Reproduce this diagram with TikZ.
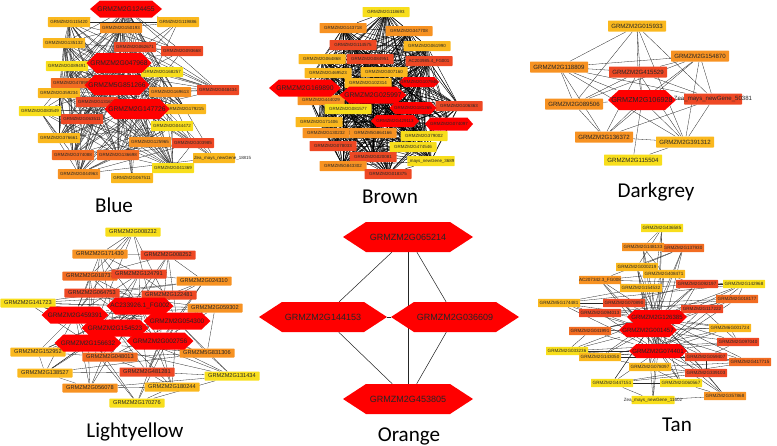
\documentclass[tikz,border=0pt]{standalone}
\usepackage{fontspec}
\newfontfamily\genefont{Liberation Sans}
\newfontfamily\titlefont{Carlito}
\pgfdeclarelayer{edges}
\pgfsetlayers{edges,main}
\definecolor{gyel}{RGB}{248,222,28}
\definecolor{ggold}{RGB}{250,184,30}
\definecolor{gorg}{RGB}{247,146,34}
\definecolor{gdark}{RGB}{242,108,34}
\definecolor{gred}{RGB}{238,72,36}
\definecolor{hubred}{RGB}{255,0,0}
\newcommand{\gsize}[1]{\genefont\fontsize{#1}{#1}\selectfont}
\tikzset{
  gene/.style={rectangle, rounded corners=0.5pt, inner sep=0pt, text=black!85},
  hub/.style={rectangle, inner sep=0pt, text=black!85, path picture={
      \fill[hubred] (path picture bounding box.west)
        -- ([xshift=#1]path picture bounding box.north west)
        -- ([xshift=-#1]path picture bounding box.north east)
        -- (path picture bounding box.east)
        -- ([xshift=-#1]path picture bounding box.south east)
        -- ([xshift=#1]path picture bounding box.south west) -- cycle;}},
  hub/.default=0.27cm,
  link/.style={draw=black!85, line width=0.26pt},
  panel/.style={font=\titlefont\fontsize{18}{20}\selectfont, anchor=base, inner sep=0pt},
  lvA/.style={fill=gyel}, lvB/.style={fill=ggold}, lvC/.style={fill=gorg},
  lvD/.style={fill=gdark}, lvE/.style={fill=gred},
  bluebox/.style={gene, minimum width=1.26cm, minimum height=0.3cm, font=\gsize{3.8}},
  brownbox/.style={gene, minimum width=1.41cm, minimum height=0.3cm, font=\gsize{3.8}},
  greybox/.style={gene, minimum width=1.74cm, minimum height=0.33cm, font=\gsize{5.2}},
  lightbox/.style={gene, minimum width=1.65cm, minimum height=0.27cm, font=\gsize{4.8}},
  tanbox/.style={gene, minimum width=1.26cm, minimum height=0.25cm, font=\gsize{3.9}},
}

\begin{document}
\begin{tikzpicture}[x=0.03cm,y=-0.03cm]
  \useasboundingbox (0,0) rectangle (777,446);
  % ---- Blue ----
  \node[bluebox,lvB] (b1) at (69,22) {GRMZM2G115420};
  \node[bluebox,lvC] (b2) at (121,28) {GRMZM2G150193};
  \node[bluebox,lvB] (b3) at (178,22) {GRMZM2G119886};
  \node[bluebox,lvB] (b4) at (64,43) {GRMZM2G135132};
  \node[bluebox,lvE] (b5) at (135,47) {GRMZM2G062671};
  \node[bluebox,lvE] (b6) at (182,51) {GRMZM2G093668};
  \node[bluebox,lvA] (b7) at (67,66) {GRMZM2G089491};
  \node[bluebox,lvA] (b8) at (162,72) {GRMZM2G168257};
  \node[bluebox,lvD] (b9) at (72,83) {GRMZM2G478980};
  \node[bluebox,lvB] (b10) at (59,93) {GRMZM2G359234};
  \node[bluebox,lvC] (b11) at (170,92) {GRMZM2G169613};
  \node[bluebox,lvE] (b12) at (218,90) {GRMZM2G048434};
  \node[bluebox,lvE] (b13) at (97,102) {GRMZM2G131610};
  \node[bluebox,lvA] (b14) at (40,111) {GRMZM2G083549};
  \node[bluebox,lvB] (b15) at (185,109) {GRMZM2G179215};
  \node[bluebox,lvE] (b16) at (82,119) {GRMZM2G063511};
  \node[bluebox,lvA] (b17) at (172,126) {GRMZM2G044472};
  \node[bluebox,lvB] (b18) at (59,138) {GRMZM2G376661};
  \node[bluebox,lvC] (b19) at (150,142) {GRMZM2G125965};
  \node[bluebox,lvE] (b20) at (193,143) {GRMZM2G303985};
  \node[bluebox,lvD] (b21) at (73,155) {GRMZM2G374088};
  \node[bluebox,lvD] (b22) at (118,155) {GRMZM2G136698};
  \node[bluebox,lvB] (b23) at (214,158) {\makebox[1.2cm][l]{Zea\_mays\_newGene\_18815}};
  \node[bluebox,lvA] (b24) at (173,168) {GRMZM2G041369};
  \node[bluebox,lvC] (b25) at (79,174) {GRMZM2G044963};
  \node[bluebox,lvB] (b26) at (132,178) {GRMZM2G067511};
  \node[hub=0.3cm,minimum width=2.16cm,minimum height=0.51cm,font=\gsize{5.8}] (b27) at (126,9) {GRMZM2G124455};
  \node[hub=0.3cm,minimum width=1.95cm,minimum height=0.6cm,font=\gsize{5.8}] (b28) at (119,63) {GRMZM2G047968};
  \node[hub=0.3cm,minimum width=1.95cm,minimum height=0.6cm,font=\gsize{5.8}] (b29) at (117,85) {GRMZM5G851266};
  \node[hub=0.3cm,minimum width=1.95cm,minimum height=0.6cm,font=\gsize{5.8}] (b30) at (137,109) {GRMZM2G147726};
  \node[panel] (tblue) at (114,212) {Blue};

  % ---- Brown ----
  \node[brownbox,lvA] (w1) at (386,12) {GRMZM2G118693};
  \node[brownbox,lvC] (w2) at (343,28) {GRMZM2G143718};
  \node[brownbox,lvC] (w3) at (409,31) {GRMZM2G347708};
  \node[brownbox,lvE] (w4) at (353,45) {GRMZM2G114575};
  \node[brownbox,lvB] (w5) at (427,46) {GRMZM2G061990};
  \node[brownbox,lvB] (w6) at (322,59) {GRMZM2G064868};
  \node[brownbox,lvE] (w7) at (370,59) {GRMZM2G084951};
  \node[brownbox,lvE] (w8) at (429,61) {AC203985.4\_FG001};
  \node[brownbox,lvB] (w9) at (328,73) {GRMZM2G469523};
  \node[brownbox,lvB] (w10) at (384,72) {GRMZM2G007160};
  \node[brownbox,lvB] (w11) at (368,83) {GRMZM2G102314};
  \node[brownbox,lvC] (w12) at (321,100) {GRMZM2G444029};
  \node[brownbox,lvA] (w13) at (348,109) {GRMZM2G081577};
  \node[brownbox,lvE] (w14) at (459,106) {GRMZM2G106363};
  \node[brownbox,lvB] (w15) at (319,122) {GRMZM2G171406};
  \node[brownbox,lvC] (w16) at (326,133) {GRMZM2G130232};
  \node[brownbox,lvC] (w17) at (373,133) {GRMZM5G864166};
  \node[brownbox,lvA] (w18) at (424,136) {GRMZM2G379002};
  \node[brownbox,lvE] (w19) at (333,146) {GRMZM2G078033};
  \node[brownbox,lvA] (w20) at (413,147) {GRMZM2G474546};
  \node[brownbox,lvE] (w21) at (373,157) {GRMZM2G020081};
  \node[brownbox,lvA] (w22) at (431,161) {\makebox[1.42cm][l]{\_mays\_newGene\_3689}};
  \node[brownbox,lvC] (w23) at (343,166) {GRMZM5G843302};
  \node[brownbox,lvE] (w24) at (388,174) {GRMZM2G018375};
  \node[hub=0.15cm,minimum width=1.2cm,minimum height=0.3cm,font=\gsize{3.8}] (w25) at (419,82) {GRMZM2G107946};
  \node[hub=0.3cm,minimum width=2.16cm,minimum height=0.51cm,font=\gsize{5.8}] (w26) at (305,88) {GRMZM2G169890};
  \node[hub=0.3cm,minimum width=2.01cm,minimum height=0.51cm,font=\gsize{5.8}] (w27) at (373,95) {GRMZM2G025997};
  \node[hub=0.17cm,minimum width=1.41cm,minimum height=0.36cm,font=\gsize{3.8}] (w28) at (413,108) {GRMZM2G181265};
  \node[hub=0.17cm,minimum width=1.44cm,minimum height=0.36cm,font=\gsize{3.8}] (w29) at (395,121) {GRMZM2G429113};
  \node[hub=0.17cm,minimum width=1.44cm,minimum height=0.39cm,font=\gsize{3.8}] (w30) at (449,124) {GRMZM2G074097};
  \node[panel] (tbrown) at (390,203) {Brown};

  % ---- Darkgrey ----
  \node[greybox,lvB] (d1) at (637,26) {GRMZM2G015933};
  \node[greybox,lvC] (d2) at (700,56) {GRMZM2G154870};
  \node[greybox,lvC] (d3) at (559,67) {GRMZM2G118809};
  \node[greybox,lvE] (d4) at (638,72) {GRMZM2G415529};
  \node[greybox,lvE] (d5) at (713,99) {\makebox[1.74cm][c]{Zea\_mays\_newGene\_50381}};
  \node[greybox,lvC] (d6) at (574,104) {GRMZM2G089506};
  \node[greybox,lvC] (d7) at (604,137) {GRMZM2G136372};
  \node[greybox,lvB] (d8) at (685,142) {GRMZM2G391312};
  \node[greybox,lvA] (d9) at (633,160) {GRMZM2G115504};
  \node[hub=0.33cm,minimum width=2.04cm,minimum height=0.6cm,font=\gsize{6.2}] (d10) at (642,100) {GRMZM2G106928};
  \node[panel] (tgrey) at (656,197) {Darkgrey};

  % ---- Lightyellow ----
  \node[lightbox,lvA] (l1) at (133,232) {GRMZM2G008232};
  \node[lightbox,lvC] (l2) at (100,254) {GRMZM2G171430};
  \node[lightbox,lvE] (l3) at (168,255) {GRMZM2G008252};
  \node[lightbox,lvD] (l4) at (90,276) {GRMZM2G018737};
  \node[lightbox,lvE] (l5) at (139,274) {GRMZM2G124791};
  \node[lightbox,lvC] (l6) at (204,281) {GRMZM2G024310};
  \node[lightbox,lvE] (l7) at (92,293) {GRMZM2G064753};
  \node[lightbox,lvE] (l8) at (169,295) {GRMZM2G122481};
  \node[lightbox,lvA] (l9) at (28,303) {GRMZM2G141723};
  \node[lightbox,lvC] (l10) at (215,308) {GRMZM2G059302};
  \node[lightbox,lvB] (l11) at (38,352) {GRMZM2G152952};
  \node[lightbox,lvD] (l12) at (110,357) {GRMZM2G048013};
  \node[lightbox,lvC] (l13) at (207,353) {GRMZM5G831306};
  \node[lightbox,lvB] (l14) at (45,373) {GRMZM2G138527};
  \node[lightbox,lvE] (l15) at (147,372) {GRMZM2G481281};
  \node[lightbox,lvA] (l16) at (232,376) {GRMZM2G131434};
  \node[lightbox,lvC] (l17) at (90,388) {GRMZM2G056078};
  \node[lightbox,lvB] (l18) at (172,387) {GRMZM2G180244};
  \node[lightbox,lvA] (l19) at (137,403) {GRMZM2G170276};
  \node[hub=0.27cm,minimum width=2.01cm,minimum height=0.51cm,font=\gsize{5.5}] (l20) at (140,306) {AC233926.1\_FG002};
  \node[hub=0.27cm,minimum width=2.01cm,minimum height=0.51cm,font=\gsize{5.5}] (l21) at (75,315) {GRMZM2G459391};
  \node[hub=0.27cm,minimum width=2.01cm,minimum height=0.51cm,font=\gsize{5.5}] (l22) at (177,321) {GRMZM2G054300};
  \node[hub=0.27cm,minimum width=2.01cm,minimum height=0.51cm,font=\gsize{5.5}] (l23) at (115,328) {GRMZM2G154523};
  \node[hub=0.27cm,minimum width=2.01cm,minimum height=0.51cm,font=\gsize{5.5}] (l24) at (88,343) {GRMZM2G156632};
  \node[hub=0.27cm,minimum width=2.01cm,minimum height=0.51cm,font=\gsize{5.5}] (l25) at (160,341) {GRMZM2G002756};
  \node[panel] (tlight) at (135,437) {Lightyellow};

  % ---- Orange ----
  \node[hub=0.69cm,minimum width=3.9cm,minimum height=0.9cm,font=\gsize{7.7}] (o1) at (408,237) {GRMZM2G065214};
  \node[hub=0.69cm,minimum width=3.84cm,minimum height=0.9cm,font=\gsize{7.7}] (o2) at (323,317) {GRMZM2G144153};
  \node[hub=0.69cm,minimum width=3.84cm,minimum height=0.9cm,font=\gsize{7.7}] (o3) at (455,317) {GRMZM2G036609};
  \node[hub=0.69cm,minimum width=3.9cm,minimum height=0.9cm,font=\gsize{7.7}] (o4) at (408,399) {GRMZM2G453805};
  \node[panel] (torange) at (409,441) {Orange};

  % ---- Tan ----
  \node[tanbox,lvA] (t1) at (662,228) {GRMZM2G436585};
  \node[tanbox,lvD] (t3) at (683,248) {GRMZM2G137930};
  \node[tanbox,lvC] (t2) at (643,247) {GRMZM2G148133};
  \node[tanbox,lvB] (t4) at (637,267) {GRMZM2G000219};
  \node[tanbox,lvB] (t5) at (664,274) {GRMZM2G408471};
  \node[tanbox,lvC] (t6) at (600,280) {AC207342.3\_FG008};
  \node[tanbox,lvB] (t7) at (641,288) {GRMZM2G154532};
  \node[tanbox,lvE] (t8) at (697,284) {GRMZM2G092197};
  \node[tanbox,lvA] (t9) at (744,284) {GRMZM2G142968};
  \node[tanbox,lvB] (t10) at (559,303) {GRMZM5G174481};
  \node[tanbox,lvE] (t11) at (624,303) {GRMZM2G070890};
  \node[tanbox,lvD] (t12) at (737,299) {GRMZM2G018177};
  \node[tanbox,lvE] (t13) at (600,313) {GRMZM2G094013};
  \node[tanbox,lvE] (t14) at (702,309) {GRMZM2G117222};
  \node[tanbox,lvD] (t15) at (590,331) {GRMZM2G041991};
  \node[tanbox,lvB] (t16) at (730,328) {GRMZM6G001724};
  \node[tanbox,lvE] (t17) at (738,342) {GRMZM2G097040};
  \node[tanbox,lvA] (t18) at (567,351) {GRMZM2G033236};
  \node[tanbox,lvB] (t19) at (600,357) {GRMZM2G143050};
  \node[tanbox,lvE] (t20) at (706,357) {GRMZM2G059407};
  \node[tanbox,lvD] (t21) at (750,362) {GRMZM2G417715};
  \node[tanbox,lvB] (t22) at (650,367) {GRMZM2G078097};
  \node[tanbox,lvE] (t23) at (706,373) {GRMZM2G339103};
  \node[tanbox,lvA] (t24) at (612,383) {GRMZM2G447151};
  \node[tanbox,lvA] (t25) at (681,383) {GRMZM2G060567};
  \node[tanbox,lvC] (t26) at (725,396) {GRMZM2G357868};
  \node[tanbox,lvA] (t27) at (653,400) {\makebox[1.29cm][c]{Zea\_mays\_newGene\_11602}};
  \node[hub=0.22cm,minimum width=1.8cm,minimum height=0.42cm,font=\gsize{5.2}] (t28) at (657,317) {GRMZM2G126385};
  \node[hub=0.22cm,minimum width=1.74cm,minimum height=0.42cm,font=\gsize{5.2}] (t29) at (648,330) {GRMZM2G001457};
  \node[hub=0.22cm,minimum width=1.74cm,minimum height=0.42cm,font=\gsize{5.2}] (t30) at (658,351) {GRMZM2G074401};
  \node[panel] (ttan) at (677,431) {Tan};

  % edges, behind the genes
  \begin{pgfonlayer}{edges}
    \foreach \i in {1,...,29}{
      \pgfmathtruncatemacro\k{\i+1}
      \foreach \j in {\k,...,30}{
        \pgfmathtruncatemacro\r{(\j>26)||(mod(\i*\j+\i,3)>0)}
        \ifnum\r=1 \draw[link] (b\i) -- (b\j); \fi
        \draw[link,draw=black,line width=0.34pt] (w\i) -- (w\j);
        \pgfmathtruncatemacro\s{(\j>27)||((\j-\i<4)&&(mod(\i+\j,2)==1))}
        \ifnum\s=1 \draw[link] (t\i) -- (t\j); \fi
      }
    }
    \foreach \i in {1,...,24}{
      \pgfmathtruncatemacro\k{\i+1}
      \foreach \j in {\k,...,25}{
        \pgfmathtruncatemacro\r{(\i>19)||((\j>19)&&(mod(\i+\j,3)>0))||((\j<20)&&(\j-\i<4)&&(mod(\i+\j,2)==1))}
        \ifnum\r=1 \draw[link] (l\i) -- (l\j); \fi
      }
    }
    \foreach \a/\b in {d1/d3,d1/d6,d1/d4,d1/d10,d1/d5,d1/d8,
                       d2/d3,d2/d4,d2/d10,d2/d6,d2/d7,d2/d5,d2/d8,
                       d3/d4,d3/d5,d3/d10,d3/d6,d3/d7,d3/d8,
                       d4/d10,d4/d6,d4/d7,d4/d5,d4/d8,
                       d10/d6,d10/d7,d10/d8,d10/d9,d10/d5,
                       d5/d7,d5/d8,d6/d7,d7/d8,d8/d9}
      \draw[link] (\a) -- (\b);
    \foreach \a/\b in {o1/o2,o1/o3,o1/o4,o2/o3,o2/o4,o3/o4}
      \draw[link,line width=0.45pt] (\a) -- (\b);
  \end{pgfonlayer}
\end{tikzpicture}
\end{document}
